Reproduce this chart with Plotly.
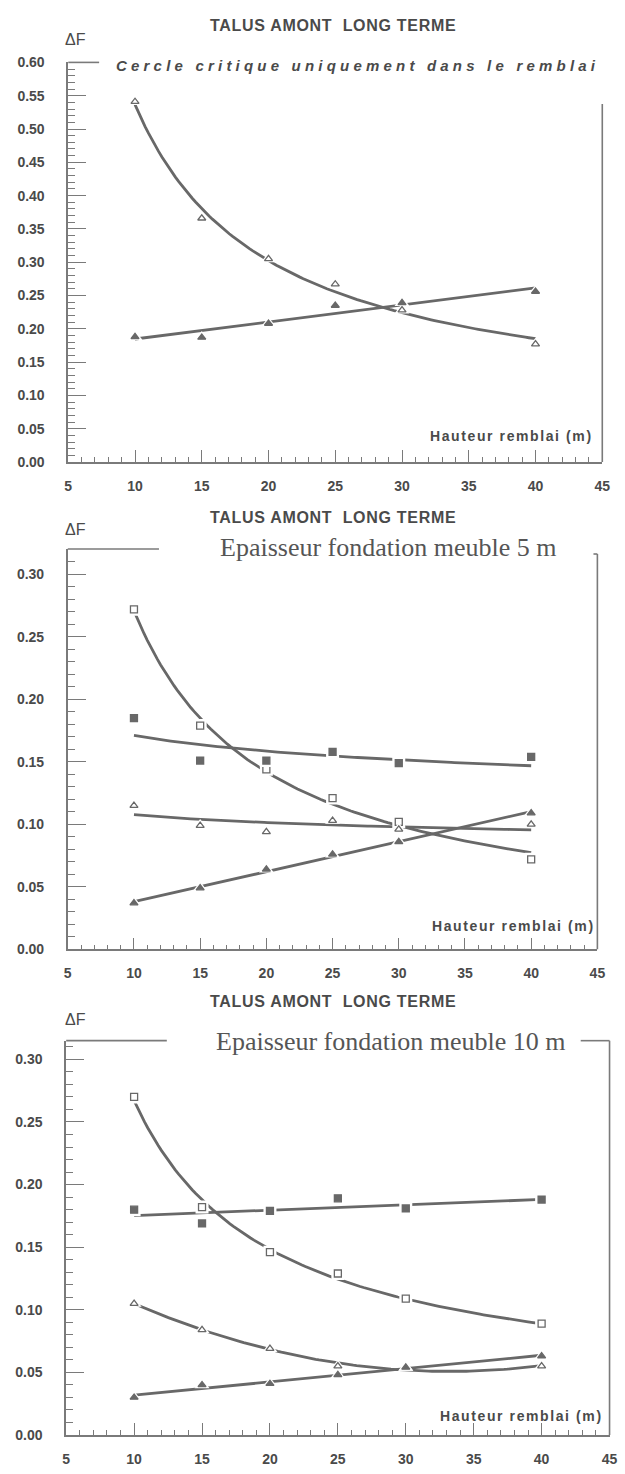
import numpy as np
import plotly.graph_objects as go

W, H = 625, 1474

# ---------------- data ----------------
hauteur = [10, 15, 20, 25, 30, 40]
x_tick_vals = [5, 10, 15, 20, 25, 30, 35, 40, 45]

titre = "TALUS AMONT  LONG TERME"
sous_titres = ["Cercle critique uniquement dans le remblai",
               "Epaisseur fondation meuble 5 m",
               "Epaisseur fondation meuble 10 m"]
x_label = "Hauteur remblai (m)"
y_label = "ΔF"

# Panel 1 : cercle critique uniquement dans le remblai
p1_open_tri = [0.541, 0.366, 0.305, 0.267, 0.228, 0.177]
p1_full_tri = [0.188, 0.187, 0.208, 0.235, 0.239, 0.256]
# Panel 2 : fondation meuble 5 m
p2_open_sq = [0.272, 0.179, 0.144, 0.121, 0.102, 0.072]
p2_full_sq = [0.185, 0.151, 0.151, 0.158, 0.149, 0.154]
p2_open_tri = [0.115, 0.099, 0.094, 0.103, 0.096, 0.100]
p2_full_tri = [0.037, 0.049, 0.064, 0.076, 0.086, 0.109]
# Panel 3 : fondation meuble 10 m
p3_open_sq = [0.270, 0.182, 0.146, 0.129, 0.109, 0.089]
p3_full_sq = [0.180, 0.169, 0.179, 0.189, 0.181, 0.188]
p3_open_tri = [0.105, 0.084, 0.069, 0.055, 0.054, 0.055]
p3_full_tri = [0.030, 0.040, 0.041, 0.048, 0.054, 0.063]

# ---------------- style ----------------
LINE = "#686868"
AXIS = "#7a7a7a"
TXT = "#4a4a4a"


def py(p):  # pixel y -> paper
    return 1 - p / H


def px(p):  # pixel x -> paper
    return p / W


def fit(xs, ys, kind):
    xs = np.asarray(xs, float)
    ys = np.asarray(ys, float)
    xf = np.linspace(xs.min(), xs.max(), 120)
    if kind == "power":
        b, a = np.polyfit(np.log(xs), np.log(ys), 1)
        yf = np.exp(a) * xf ** b
    elif kind == "inv":
        b, a = np.polyfit(1.0 / xs, ys, 1)
        yf = a + b / xf
    elif kind == "poly2":
        yf = np.polyval(np.polyfit(xs, ys, 2), xf)
    else:
        yf = np.polyval(np.polyfit(xs, ys, 1), xf)
    return xf, yf


panels = [
    dict(series=[(p1_open_tri, "triangle-up-open", "inv"),
                 (p1_full_tri, "triangle-up", "linear")],
         xdom=(65.5, 610), ydom=(55, 459), yrange=(0, 0.60)),
    dict(series=[(p2_open_sq, "square-open", "inv"),
                 (p2_full_sq, "square", "power"),
                 (p2_open_tri, "triangle-up-open", "power"),
                 (p2_full_tri, "triangle-up", "linear")],
         xdom=(65, 605), ydom=(547.2, 951.7), yrange=(0, 0.32)),
    dict(series=[(p3_open_sq, "square-open", "inv"),
                 (p3_full_sq, "square", "linear"),
                 (p3_open_tri, "triangle-up-open", "poly2"),
                 (p3_full_tri, "triangle-up", "linear")],
         xdom=(63.4, 617.4), ydom=(1043.9, 1442.7), yrange=(0, 0.315)),
]

fig = go.Figure()
layout = dict(
    width=W, height=H, margin=dict(l=0, r=0, t=0, b=0),
    paper_bgcolor="white", plot_bgcolor="white", showlegend=False,
)

tickfont = dict(family="Liberation Sans", size=14, color=TXT, weight="bold")

for i, p in enumerate(panels):
    sfx = "" if i == 0 else str(i + 1)
    xa, ya = "x" + sfx, "y" + sfx
    for vals, sym, kind in p["series"]:
        xf, yf = fit(hauteur, vals, kind)
        fig.add_trace(go.Scatter(x=xf, y=yf, mode="lines", xaxis=xa, yaxis=ya,
                                 line=dict(color=LINE, width=2.8), hoverinfo="skip"))
    for vals, sym, kind in p["series"]:
        fig.add_trace(go.Scatter(x=hauteur, y=vals, mode="markers", xaxis=xa, yaxis=ya,
                                 marker=dict(symbol=sym.replace("-open", ""), size=13,
                                             color="white"), hoverinfo="skip"))
        fig.add_trace(go.Scatter(x=hauteur, y=vals, mode="markers", xaxis=xa, yaxis=ya,
                                 marker=dict(symbol=sym, size=7, color=LINE,
                                             line=dict(color=LINE, width=1.3))))
    x0, x1 = p["xdom"]
    yt, yb = p["ydom"]
    layout["xaxis" + sfx] = dict(
        domain=[px(x0), px(x1)], range=[4.999, 45.001], anchor=ya,
        tickmode="array", tickvals=x_tick_vals, ticks="inside", ticklen=12,
        tickwidth=1.2, tickcolor=AXIS, showline=True, linecolor=AXIS, linewidth=1.6,
        showgrid=False, zeroline=False, tickfont=tickfont, ticklabelstandoff=10,
        minor=dict(ticks="inside", ticklen=5, dtick=1, tick0=5, tickcolor=AXIS,
                   tickwidth=1, showgrid=False),
    )
    layout["yaxis" + sfx] = dict(
        domain=[py(yb), py(yt)], range=list(p["yrange"]), anchor=xa,
        tick0=0, dtick=0.05, tickformat=".2f", ticks="inside", ticklen=18,
        tickwidth=1.2, tickcolor=AXIS, showline=True, linecolor=AXIS, linewidth=1.6,
        showgrid=False, zeroline=False, tickfont=tickfont, ticklabelstandoff=19,
        minor=dict(ticks="inside", ticklen=7, dtick=0.01, tick0=0, tickcolor=AXIS,
                   tickwidth=1, showgrid=False),
    )

fig.update_layout(**layout)

# ---------------- frame decorations ----------------
shapes = []


def seg(xa_, ya_, xb_, yb_, w=1.6):
    shapes.append(dict(type="line", xref="paper", yref="paper",
                       x0=px(xa_), y0=py(ya_), x1=px(xb_), y1=py(yb_),
                       line=dict(color=AXIS, width=w)))


# panel 1
seg(65.5, 55, 97, 55)
seg(610, 97, 610, 459)
# panel 2
seg(65, 547, 158, 547)
seg(605, 552, 605, 951.7)
seg(601, 552, 605, 552)
# panel 3
seg(63.4, 1044, 166, 1044)
seg(588, 1044, 617.4, 1044)
seg(617.4, 1044, 617.4, 1442.7)
fig.update_layout(shapes=shapes)

# ---------------- texts ----------------
ann = []


def text(t, x, y, xanchor="left", size=13, family="Liberation Sans", color=TXT):
    ann.append(dict(text=t, x=px(x), y=py(y), xref="paper", yref="paper",
                    xanchor=xanchor, yanchor="middle", showarrow=False,
                    font=dict(family=family, size=size, color=color)))


title_y = [18, 515, 1004]
dF_y = [32, 527, 1023]
hr = [(603, 433), (605, 928), (613, 1423)]
for k in range(3):
    text('<span style="letter-spacing:0.7px"><b>%s</b></span>' % titre, 208, title_y[k], size=16)
    text(y_label, 60, dF_y[k], size=16)
    text('<span style="letter-spacing:1.6px"><b>%s</b></span>' % x_label, hr[k][0], hr[k][1],
         xanchor="right", size=14)

text('<span style="letter-spacing:4.2px"><b><i>%s</i></b></span>' % sous_titres[0], 112, 58, size=15)
text(sous_titres[1], 218, 545, size=26, family="Liberation Serif", color="#555555")
text(sous_titres[2], 214, 1045, size=26, family="Liberation Serif", color="#555555")

fig.update_layout(annotations=ann)
fig.write_html("out.html")
